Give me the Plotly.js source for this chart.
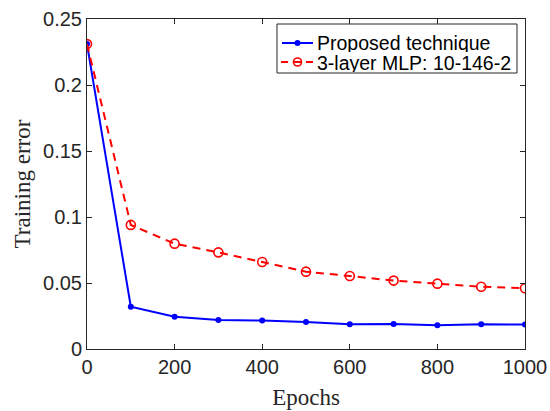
<!DOCTYPE html>
<html><head><meta charset="utf-8">
<script src="https://cdn.plot.ly/plotly-3.0.1.min.js"></script>
<style>html,body{margin:0;padding:0;background:#fff;}</style>
</head><body><div id="c" style="width:550px;height:411px;"></div>
<script>
const epochs = [0, 100, 200, 300, 400, 500, 600, 700, 800, 900, 1000];
const proposed = [0.231, 0.032, 0.0245, 0.022, 0.0215, 0.0205, 0.0187, 0.019, 0.018, 0.0187, 0.0185];
const mlp = [0.231, 0.094, 0.0798, 0.0732, 0.0659, 0.0586, 0.0553, 0.0518, 0.0495, 0.0472, 0.046];
const seriesNames = ['Proposed technique', '3-layer MLP: 10-146-2'];
const yTicks = [0, 0.05, 0.1, 0.15, 0.2, 0.25];
const xTicks = [0, 200, 400, 600, 800, 1000];

const blue = '#0000ff', red = '#ff0000';
const traces = [
  {x: epochs, y: proposed, name: seriesNames[0], mode: 'lines+markers',
   line: {color: blue, width: 2},
   marker: {symbol: 'circle', size: 6, color: blue, line: {width: 0}}},
  {x: epochs, y: mlp, name: seriesNames[1], mode: 'lines+markers',
   line: {color: red, width: 2, dash: '8px,6px'},
   marker: {symbol: 'circle-open', size: 9, color: red, line: {color: red, width: 1.6}}}
];

// custom compact legend (pixel layout converted to paper coords)
const L = 87, W = 438, B = 349, H = 330;
const px = v => (v - L) / W, py = v => (B - v) / H;
const shapes = [
  {type: 'rect', xref: 'paper', yref: 'paper', x0: px(277), x1: px(517), y0: py(73), y1: py(24),
   line: {color: '#262626', width: 1}, fillcolor: '#fff', layer: 'above'},
  {type: 'line', xref: 'paper', yref: 'paper', x0: px(282), x1: px(313), y0: py(43), y1: py(43),
   line: {color: blue, width: 2}, layer: 'above'},
  {type: 'circle', xref: 'paper', yref: 'paper', x0: px(294.5), x1: px(300.5), y0: py(46), y1: py(40),
   line: {color: blue, width: 0}, fillcolor: blue, layer: 'above'},
  {type: 'line', xref: 'paper', yref: 'paper', x0: px(281), x1: px(288), y0: py(62), y1: py(62),
   line: {color: red, width: 2}, layer: 'above'},
  {type: 'line', xref: 'paper', yref: 'paper', x0: px(306), x1: px(313), y0: py(62), y1: py(62),
   line: {color: red, width: 2}, layer: 'above'},
  {type: 'circle', xref: 'paper', yref: 'paper', x0: px(293.5), x1: px(301.5), y0: py(66), y1: py(58),
   line: {color: red, width: 1.6}, fillcolor: 'rgba(0,0,0,0)', layer: 'above'},
  {type: 'line', xref: 'paper', yref: 'paper', x0: px(294), x1: px(301), y0: py(62), y1: py(62),
   line: {color: red, width: 2}, layer: 'above'}
];
const annotations = seriesNames.map((t, i) => ({
  text: t, xref: 'paper', yref: 'paper', x: px(316), y: py(i === 0 ? 42.5 : 62.5),
  xanchor: 'left', yanchor: 'middle', showarrow: false, height: 19, borderpad: 0,
  font: {family: 'Liberation Sans, Arial', size: 19.5, color: '#000'}
}));

const axisCommon = {
  showgrid: false, zeroline: false, showline: true, mirror: 'ticks',
  linecolor: '#262626', linewidth: 1, ticks: 'inside', ticklen: 5, tickcolor: '#262626',
  tickfont: {family: 'Liberation Sans, Arial', size: 20, color: '#262626'}
};
const layout = {
  width: 550, height: 411,
  margin: {l: 87, r: 25, t: 19, b: 62},
  paper_bgcolor: '#fff', plot_bgcolor: '#fff',
  showlegend: false,
  shapes: shapes, annotations: annotations,
  xaxis: Object.assign({}, axisCommon, {range: [0, 1000], tickvals: xTicks,
    title: {text: 'Epochs', font: {family: 'Liberation Serif, Times New Roman', size: 23, color: '#262626'}, standoff: 11}}),
  yaxis: Object.assign({}, axisCommon, {range: [0, 0.25], tickvals: yTicks,
    title: {text: 'Training error', font: {family: 'Liberation Serif, Times New Roman', size: 23, color: '#262626'}, standoff: 6}})
};
Plotly.newPlot('c', traces, layout, {displayModeBar: false, staticPlot: true});
</script></body></html>
